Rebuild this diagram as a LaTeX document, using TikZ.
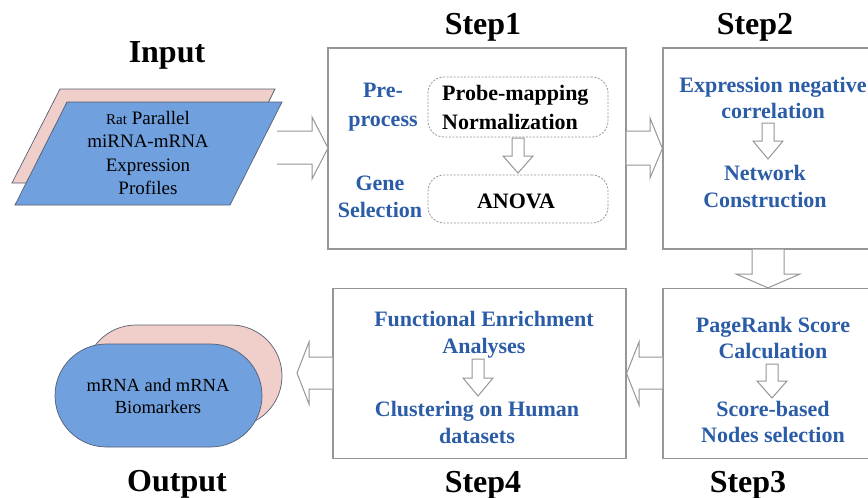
\documentclass[tikz,border=0pt]{standalone}
\usepackage{fontspec}
\setmainfont{Liberation Serif}
\usetikzlibrary{shapes.misc}
\definecolor{tblue}{RGB}{43,92,168}
\definecolor{fillblue}{RGB}{112,160,222}
\definecolor{fillpink}{RGB}{240,206,202}
\definecolor{edgegray}{RGB}{150,150,150}
\definecolor{shapeedge}{RGB}{85,95,115}
\begin{document}
\begin{tikzpicture}[x=1pt,y=-1pt,
  stepbox/.style={draw=edgegray, line width=1.2pt, fill=white, inner sep=0pt},
  dashbox/.style={draw=edgegray, dash pattern=on 2pt off 1.5pt, line width=0.8pt, rounded corners=16pt, inner sep=0pt},
  bluetxt/.style={text=tblue, font=\fontsize{22}{26.5}\selectfont\bfseries, align=center, inner sep=0pt},
  blacktxt/.style={text=black, font=\fontsize{22}{29}\selectfont\bfseries, align=left, inner sep=0pt},
  titletxt/.style={font=\fontsize{32}{36}\selectfont\bfseries, inner sep=0pt},
  harrow/.style={draw=edgegray, line width=1pt, fill=white, line join=miter},
  shapeout/.style={draw=shapeedge, line width=0.7pt},
]
\clip (0,0) rectangle (868,498);
\fill[white] (0,0) rectangle (868,498);

% titles
\node[titletxt] (tin) at (167,55) {Input};
\node[titletxt] (t1) at (483,27) {Step1};
\node[titletxt] (t2) at (755,27) {Step2};
\node[titletxt] (t3) at (748,485) {Step3};
\node[titletxt] (t4) at (483,485) {Step4};
\node[titletxt] (tout) at (177,484) {Output};

% input parallelograms
\draw[shapeout, fill=fillpink] (60,89) -- (275,89) -- (228,183) -- (12,183) -- cycle;
\draw[shapeout, fill=fillblue] (67,102) -- (282,102) -- (230,205) -- (15,205) -- cycle;
\node[align=center, inner sep=0pt, font=\fontsize{19}{23.5}\selectfont] (inp) at (148,153)
  {{\fontsize{15}{15}\selectfont Rat} Parallel\\miRNA-mRNA\\Expression\\Profiles};

% output stadiums
\node[shapeout, fill=fillpink, rounded rectangle, minimum width=197pt, minimum height=102pt, inner sep=0pt] (outp) at (183.5,376) {};
\node[shapeout, fill=fillblue, rounded rectangle, minimum width=207pt, minimum height=103pt, inner sep=0pt] (outb) at (158.5,395.5) {};
\node[align=center, inner sep=0pt, font=\fontsize{18.5}{22}\selectfont] (outt) at (158,396) {mRNA and mRNA\\Biomarkers};

% step boxes
\node[stepbox, minimum width=298pt, minimum height=201pt] (s1) at (477,148.5) {};
\node[stepbox, minimum width=237pt, minimum height=201pt] (s2) at (781.5,148.5) {};
\node[stepbox, minimum width=237pt, minimum height=170pt] (s3) at (781.5,373.5) {};
\node[stepbox, minimum width=293pt, minimum height=170pt] (s4) at (479.5,373.5) {};

% step1 contents
\node[dashbox, minimum width=180pt, minimum height=60pt] (d1) at (518,107) {};
\node[dashbox, minimum width=180pt, minimum height=48pt] (d2) at (518,199) {};
\node[bluetxt, font=\fontsize{22}{29}\selectfont\bfseries] (pre) at (383,107) {Pre-\\process};
\node[bluetxt, font=\fontsize{22}{27}\selectfont\bfseries] (gene) at (380,196.5) {Gene\\Selection};
\node[blacktxt, anchor=west] (pm) at (442,107.5) {Probe-mapping\\Normalization};
\node[blacktxt] (anova) at (516,201) {ANOVA};
\draw[harrow] (512,138) -- (512,156) -- (503,156) -- (518,173) -- (533,156) -- (524,156) -- (524,138) -- cycle;

% step2 contents
\node[bluetxt] (expr) at (773,98) {Expression negative\\correlation};
\node[bluetxt] (net) at (765,186.5) {Network\\Construction};
\draw[harrow] (762,123) -- (762,141) -- (753,141) -- (768,159) -- (783,141) -- (774,141) -- (774,123) -- cycle;

% step3 contents
\node[bluetxt] (pr) at (773,338) {PageRank Score\\Calculation};
\node[bluetxt] (sb) at (773,422) {Score-based\\Nodes selection};
\draw[harrow] (766,364) -- (766,381) -- (757,381) -- (772,398) -- (787,381) -- (778,381) -- (778,364) -- cycle;

% step4 contents
\node[bluetxt] (fe) at (484,334.5) {Functional Enrichment\\Analyses};
\node[bluetxt] (cl) at (477,422.5) {Clustering on Human\\datasets};
\draw[harrow] (472,359) -- (472,378) -- (463,378) -- (478,396) -- (493,378) -- (484,378) -- (484,359) -- cycle;

% block arrows between stages
\draw[harrow] (277,131) -- (312,131) -- (312,117) -- (328,148) -- (312,179) -- (312,164) -- (277,164);
\draw[harrow] (s1.east |- 0,131) -- (650,131) -- (650,118) -- (s2.west) -- (650,178) -- (650,165) -- (s1.east |- 0,165);
\draw[harrow] (s2.south -| 752,0) -- (752,274) -- (736,274) -- (s3.north -| 768,0) -- (800,274) -- (784,274) -- (s2.south -| 784,0);
\draw[harrow] (s3.west |- 0,357) -- (639,357) -- (639,342) -- (s4.east) -- (639,405) -- (639,389) -- (s3.west |- 0,389);
\draw[harrow] (s4.west |- 0,357) -- (309,357) -- (309,342) -- (297,373) -- (309,404) -- (309,389) -- (s4.west |- 0,389);
\end{tikzpicture}
\end{document}
